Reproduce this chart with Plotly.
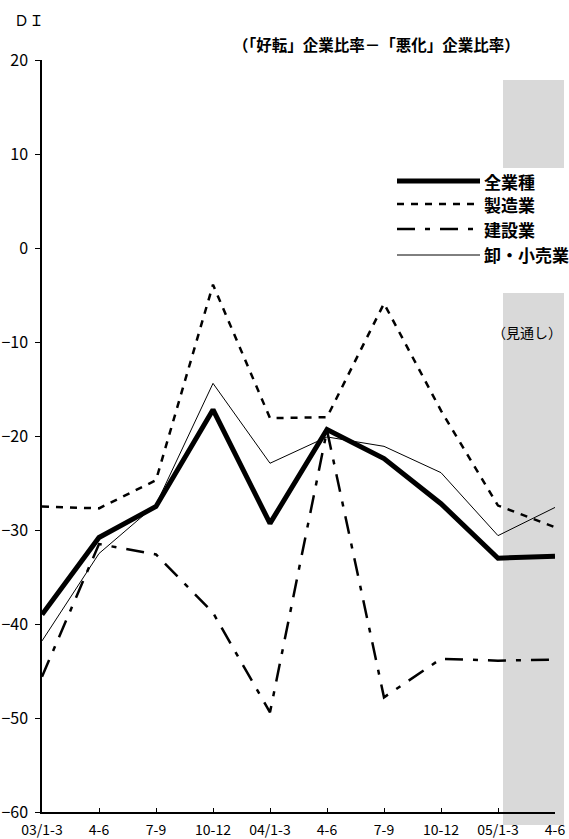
import plotly.graph_objects as go

# ---- data ----
quarters = ["03/1-3", "4-6", "7-9", "10-12", "04/1-3", "4-6", "7-9", "10-12", "05/1-3", "4-6"]
all_industries = [-39.0, -30.8, -27.5, -17.2, -29.3, -19.3, -22.4, -27.2, -33.0, -32.8]
manufacturing = [-27.5, -27.7, -24.7, -3.9, -18.1, -18.0, -5.9, -17.3, -27.4, -29.7]
construction = [-45.6, -31.5, -32.6, -38.8, -49.4, -19.4, -47.8, -43.7, -43.9, -43.8]
wholesale_retail = [-41.8, -32.5, -27.3, -14.4, -22.9, -20.1, -21.1, -23.9, -30.6, -27.6]
series_names = ["全業種", "製造業", "建設業", "卸・小売業"]
y_ticks = [-60, -50, -40, -30, -20, -10, 0, 10, 20]

xpos = list(range(len(quarters)))

# ---- layout geometry (pixels) ----
WIDTH, HEIGHT = 569, 839
L, R, T, B = 42, 555, 60, 812
PW, PH = R - L, B - T


def px(x):
    return (x - L) / PW


def py(y):
    return (B - y) / PH


FONT = "Noto Sans CJK JP"

styles = [
    dict(color="black", width=5, dash="solid"),
    dict(color="black", width=2.5, dash="7px,7px"),
    dict(color="black", width=2.5, dash="18px,10px,5px,10px"),
    dict(color="black", width=1, dash="solid"),
]
values = [all_industries, manufacturing, construction, wholesale_retail]

fig = go.Figure()
draw_order = [2, 1, 3, 0]
for i in draw_order:
    fig.add_trace(go.Scatter(
        x=xpos, y=values[i], mode="lines", name=series_names[i],
        line=styles[i], showlegend=False, hoverinfo="skip",
    ))

shapes = []
# forecast shading (split around the legend)
gray = "#d9d9d9"
shapes.append(dict(type="rect", xref="paper", yref="paper", layer="below",
                   x0=px(503), x1=px(564), y0=py(168), y1=py(80),
                   fillcolor=gray, line=dict(width=0)))
shapes.append(dict(type="rect", xref="paper", yref="paper", layer="below",
                   x0=px(503), x1=px(564), y0=py(825), y1=py(293),
                   fillcolor=gray, line=dict(width=0)))

annotations = []
legend_rows = [181, 204, 229, 255]
for i, yy in enumerate(legend_rows):
    st = styles[i]
    shapes.append(dict(type="line", xref="paper", yref="paper",
                       x0=px(397), x1=px(480), y0=py(yy), y1=py(yy),
                       line=dict(color=st["color"], width=st["width"], dash=st["dash"])))
    annotations.append(dict(xref="paper", yref="paper", x=px(482), y=py(yy),
                            xanchor="left", yanchor="middle", showarrow=False,
                            text="<b>" + series_names[i] + "</b>",
                            font=dict(family=FONT, size=17, color="black")))

annotations.append(dict(xref="paper", yref="paper", x=px(12), y=py(19),
                        xanchor="left", yanchor="middle", showarrow=False,
                        text="ＤＩ", font=dict(family=FONT, size=15, color="black")))
annotations.append(dict(xref="paper", yref="paper", x=px(376), y=py(44),
                        xanchor="center", yanchor="middle", showarrow=False,
                        text="<b>（「好転」企業比率－「悪化」企業比率）</b>",
                        font=dict(family=FONT, size=15.5, color="black")))
annotations.append(dict(xref="paper", yref="paper", x=px(527), y=py(332),
                        xanchor="center", yanchor="middle", showarrow=False,
                        text="（見通し）", font=dict(family=FONT, size=14, color="black")))

fig.update_layout(
    width=WIDTH, height=HEIGHT,
    margin=dict(l=L, r=WIDTH - R, t=T, b=HEIGHT - B, pad=0),
    paper_bgcolor="white", plot_bgcolor="rgba(0,0,0,0)",
    shapes=shapes, annotations=annotations,
    showlegend=False,
    xaxis=dict(range=[0, len(quarters) - 1], tickmode="array", tickvals=xpos, ticktext=quarters,
               showline=True, linecolor="black", linewidth=1.5, mirror=False,
               ticks="inside", ticklen=4, tickcolor="black", tickwidth=1,
               ticklabelstandoff=4,
               showgrid=False, zeroline=False, automargin=False,
               tickfont=dict(family=FONT, size=14, color="black")),
    yaxis=dict(range=[-60, 20], tickmode="array", tickvals=y_ticks,
               showline=True, linecolor="black", linewidth=1.5,
               ticks="outside", ticklen=5, tickcolor="black", tickwidth=1,
               ticklabelstandoff=4,
               showgrid=False, zeroline=False, automargin=False,
               tickfont=dict(family=FONT, size=16, color="black")),
)

fig.write_html(
    "out.html",
    config={"displayModeBar": False},
    post_script="document.body.style.margin='0';document.body.style.overflow='hidden';",
)
